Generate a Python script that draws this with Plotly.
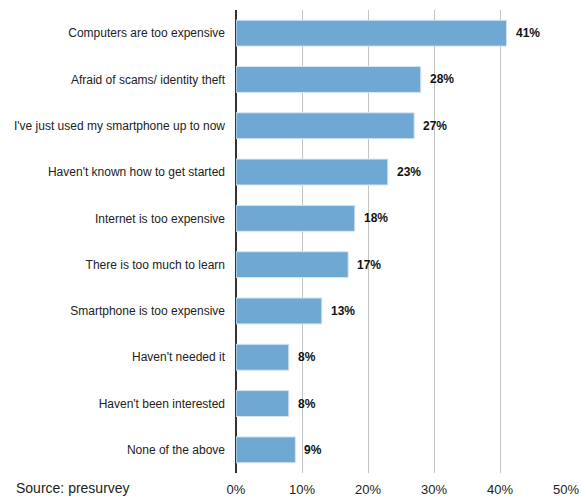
import plotly.graph_objects as go

categories = [
    "Computers are too expensive",
    "Afraid of scams/ identity theft",
    "I've just used my smartphone up to now",
    "Haven't known how to get started",
    "Internet is too expensive",
    "There is too much to learn",
    "Smartphone is too expensive",
    "Haven't needed it",
    "Haven't been interested",
    "None of the above",
]
values = [41, 28, 27, 23, 18, 17, 13, 8, 8, 9]
tick_vals = [0, 10, 20, 30, 40, 50]
tick_text = ["0%", "10%", "20%", "30%", "40%", "50%"]

fig = go.Figure()
fig.add_trace(go.Bar(
    x=values,
    y=categories,
    orientation="h",
    marker=dict(color="#6fa9d3", line=dict(color="#d6e6f3", width=1)),
    hoverinfo="skip",
))

# Value labels just past the end of each bar
for cat, v in zip(categories, values):
    fig.add_annotation(
        x=v, y=cat, text=f"<b>{v}%</b>", showarrow=False,
        xanchor="left", xshift=7,
        font=dict(family="Liberation Sans, Arial", size=12, color="#111"),
    )

fig.add_annotation(
    xref="paper", yref="paper", x=-0.673, y=-0.033,
    text="Source: presurvey", showarrow=False,
    xanchor="left", yanchor="middle",
    font=dict(family="Liberation Sans, Arial", size=14, color="#222"),
)

fig.update_layout(
    width=581, height=497,
    margin=dict(l=236, r=15, t=10, b=24),
    plot_bgcolor="white", paper_bgcolor="white",
    bargap=0.44,
    showlegend=False,
    font=dict(family="Liberation Sans, Arial", size=12, color="#222"),
    xaxis=dict(
        range=[0, 50], tickvals=tick_vals, ticktext=tick_text,
        showgrid=True, gridcolor="#c4c4c4", gridwidth=1,
        zeroline=True, zerolinecolor="#333", zerolinewidth=2,
        showline=False, ticks="", tickfont=dict(size=13),
        ticklabelstandoff=7,
        automargin=False, fixedrange=True,
    ),
    yaxis=dict(
        categoryorder="array", categoryarray=categories[::-1],
        autorange=True, ticks="", ticklabelstandoff=10,
        showline=False, showgrid=False, automargin=False,
        tickfont=dict(size=12),
    ),
)

fig.write_html("out.html")
